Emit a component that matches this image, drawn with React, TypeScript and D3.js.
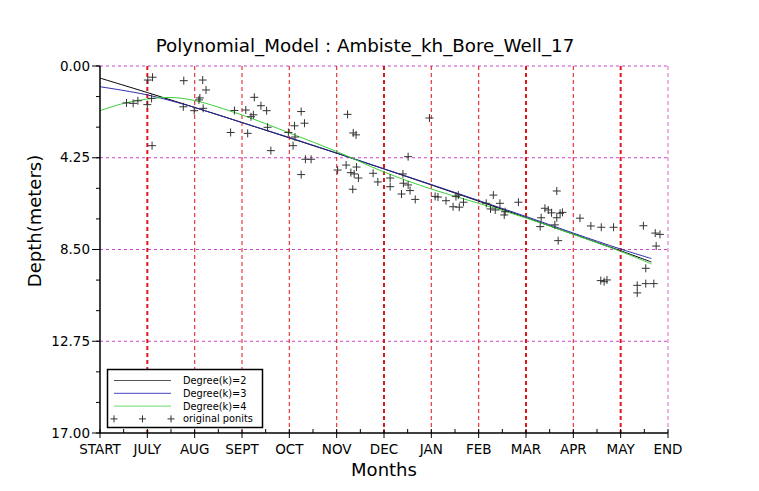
import React from 'react';
import * as d3 from 'd3';

// month ticks along the x axis (index 0..12)
const MONTH_LABELS = ['START', 'JULY', 'AUG', 'SEPT', 'OCT', 'NOV', 'DEC', 'JAN', 'FEB', 'MAR', 'APR', 'MAY', 'END'];
const DEPTH_TICKS = [0, 4.25, 8.5, 12.75, 17];

// fitted polynomial curves (month index -> depth)
const FIT_POS = [0, 1, 2, 3, 4, 5, 6, 7, 8, 9, 10, 11, 11.65];
const FIT_DEG2 = [0.56, 1.23, 1.92, 2.62, 3.33, 4.04, 4.77, 5.51, 6.26, 7.02, 7.79, 8.56, 9.08];
const FIT_DEG3 = [0.96, 1.34, 1.92, 2.62, 3.31, 4.03, 4.76, 5.49, 6.23, 6.97, 7.74, 8.48, 8.92];
const FIT4_POS = [0, 0.5, 1, 1.5, 2, 3, 4, 5, 6, 7, 8, 9, 10, 11, 11.65];
const FIT_DEG4 = [2.07, 1.73, 1.53, 1.46, 1.60, 2.27, 3.10, 3.96, 4.91, 5.70, 6.36, 7.04, 7.80, 8.59, 9.17];

// original observations
const OBS_MONTH = [
  0.56, 0.70, 0.80, 1.00, 1.01, 1.09, 1.11, 1.10, 1.77, 1.76, 1.99, 2.09, 2.11, 2.17, 2.18, 2.24,
  2.76, 2.84, 3.08, 3.12, 3.19, 3.24, 3.26, 3.40, 3.52, 3.54, 3.61, 3.98, 4.08, 4.11, 4.12, 4.25,
  4.32, 4.34, 4.46, 4.25, 5.02, 5.20, 5.23, 5.30, 5.35, 5.34, 5.37, 5.41, 5.42, 5.46, 5.77, 5.87,
  6.13, 6.13, 6.37, 6.40, 6.41, 6.51, 6.51, 6.55, 6.66, 6.96, 7.08, 7.14, 7.31, 7.46, 7.52, 7.57,
  7.59, 7.68, 8.16, 8.25, 8.31, 8.35, 8.45, 8.54, 8.56, 8.84, 9.30, 9.32, 9.40, 9.47, 9.54, 9.61,
  9.65, 9.65, 9.68, 9.72, 9.77, 10.14, 10.37, 10.59, 10.85, 11.48, 11.73, 11.83, 11.75, 11.53,
  10.58, 10.65, 10.71, 11.35, 11.35, 11.53, 11.70
];
const OBS_DEPTH = [
  1.71, 1.73, 1.61, 1.79, 0.65, 1.50, 0.52, 3.69, 0.68, 1.89, 2.07, 1.57, 1.48, 0.65, 1.96, 1.11,
  3.08, 2.06, 2.04, 3.12, 2.35, 2.26, 1.45, 1.84, 2.07, 2.84, 3.92, 3.08, 3.69, 2.77, 3.29, 2.11,
  2.65, 4.32, 4.32, 5.03, 4.82, 4.59, 2.24, 4.94, 3.10, 5.71, 5.00, 3.19, 4.68, 5.19, 4.97, 5.37,
  5.19, 5.59, 5.93, 5.00, 5.43, 4.20, 5.51, 5.77, 6.18, 2.41, 6.04, 6.07, 6.24, 6.52, 6.05, 5.98,
  6.54, 6.31, 6.36, 6.62, 5.98, 6.67, 6.36, 6.90, 6.75, 6.31, 7.44, 7.03, 6.59, 6.67, 6.80, 7.36,
  5.79, 7.03, 8.09, 6.82, 6.78, 7.05, 7.41, 7.47, 7.47, 7.40, 7.74, 7.80, 8.34, 9.37,
  9.94, 9.99, 9.91, 10.16, 10.51, 10.08, 10.08
];

const LEGEND_ITEMS = ['Degree(k)=2', 'Degree(k)=3', 'Degree(k)=4', 'original ponits'];

const W = 759;
const H = 491;
const FONT = '"DejaVu Sans", sans-serif';
const margin = { top: 66, right: 91, bottom: 58, left: 100 };

const Plus = ({ x, y, s = 4 }: { x: number; y: number; s?: number }) => (
  <g stroke="#333" strokeWidth={1}>
    <line x1={x - s} x2={x + s} y1={y} y2={y} />
    <line x1={x} x2={x} y1={y - s} y2={y + s} />
  </g>
);

export default function App() {
  const x = d3.scaleLinear().domain([0, 12]).range([margin.left, W - margin.right]);
  const y = d3.scaleLinear().domain([0, 17]).range([margin.top, H - margin.bottom]);
  const x0 = x(0), x1 = x(12), y0 = y(0), y1 = y(17);

  const line = d3.line<[number, number]>()
    .x(d => x(d[0]))
    .y(d => y(d[1]))
    .curve(d3.curveCatmullRom.alpha(0.5));

  const deg2 = FIT_POS.map((p, i) => [p, FIT_DEG2[i]] as [number, number]);
  const deg3 = FIT_POS.map((p, i) => [p, FIT_DEG3[i]] as [number, number]);
  const deg4 = FIT4_POS.map((p, i) => [p, FIT_DEG4[i]] as [number, number]);

  // heavier-looking red grid lines in the original
  const heavy = new Set([1, 6, 9, 11]);
  const minorY = d3.range(0, 17.001, 17 / 12);
  const minorX = d3.range(0.5, 12, 1);

  return (
    <svg width={W} height={H} style={{ position: 'absolute', left: 0, top: 0, background: '#fff' }} fontFamily={FONT}>
      <rect width={W} height={H} fill="#fff" />

      {/* horizontal grid */}
      {DEPTH_TICKS.slice(0, 4).map(t => (
        <line key={'hg' + t} x1={x0} x2={x1} y1={y(t)} y2={y(t)} stroke="#cc44cc" strokeWidth={1} strokeDasharray="3,3" />
      ))}
      {/* vertical grid */}
      {MONTH_LABELS.map((m, i) => i === 0 ? null : (
        <line key={'vg' + m} x1={x(i)} x2={x(i)} y1={y0} y2={y1}
          stroke={i === 12 ? '#dd66cc' : '#e01818'}
          strokeWidth={i === 12 ? 1 : heavy.has(i) ? 2 : 1.2}
          strokeOpacity={i === 12 || heavy.has(i) ? 1 : 0.85}
          strokeDasharray="4,3" />
      ))}

      {/* fitted curves */}
      <path d={line(deg2) ?? ''} fill="none" stroke="#000" strokeWidth={1} />
      <path d={line(deg3) ?? ''} fill="none" stroke="#2a2aa8" strokeWidth={1} />
      <path d={line(deg4) ?? ''} fill="none" stroke="#3ad03a" strokeWidth={1} />

      {/* observations */}
      {OBS_MONTH.map((m, i) => <Plus key={'p' + i} x={x(m)} y={y(OBS_DEPTH[i])} />)}

      {/* axes */}
      <line x1={x0} x2={x0} y1={y0} y2={y1} stroke="#000" strokeWidth={1.5} />
      <line x1={x0} x2={x1} y1={y1} y2={y1} stroke="#000" strokeWidth={1.5} />
      {minorY.map((t, i) => (
        <line key={'my' + i} x1={x0 - 4} x2={x0} y1={y(t)} y2={y(t)} stroke="#000" strokeWidth={1} />
      ))}
      {DEPTH_TICKS.map(t => (
        <g key={'yt' + t}>
          <line x1={x0 - 8} x2={x0} y1={y(t)} y2={y(t)} stroke="#000" strokeWidth={1} />
          <text x={x0 - 10} y={y(t)} dy="0.35em" textAnchor="end" fontSize={13.5} fill="#000">{t.toFixed(2)}</text>
        </g>
      ))}
      {minorX.map((t, i) => (
        <line key={'mx' + i} x1={x(t)} x2={x(t)} y1={y1} y2={y1 - 4} stroke="#000" strokeWidth={1} />
      ))}
      {MONTH_LABELS.map((m, i) => (
        <g key={'xt' + m}>
          <line x1={x(i)} x2={x(i)} y1={y1 - 4} y2={y1 + 5} stroke="#000" strokeWidth={1} />
          <text x={x(i)} y={y1 + 21} textAnchor="middle" fontSize={13.5} fill="#000">{m}</text>
        </g>
      ))}

      {/* legend */}
      <rect x={107.5} y={369.5} width={155} height={58} fill="#fff" stroke="#000" strokeWidth={1.5} />
      {LEGEND_ITEMS.map((label, i) => {
        const ly = 380.5 + i * 12.8;
        return (
          <g key={label}>
            {i < 3 ? (
              <line x1={114} x2={171} y1={ly} y2={ly} stroke={['#555', '#6a6ad0', '#88e088'][i]} strokeWidth={1.2} />
            ) : (
              [114, 142.5, 171].map(px => <Plus key={px} x={px} y={ly} s={3.5} />)
            )}
            <text x={183} y={ly} dy="0.35em" fontSize={9.8} fill="#000">{label}</text>
          </g>
        );
      })}

      {/* titles */}
      <text x={365} y={52} textAnchor="middle" fontSize={18.3} fill="#000">Polynomial_Model : Ambiste_kh_Bore_Well_17</text>
      <text x={384} y={476} textAnchor="middle" fontSize={18} fill="#000">Months</text>
      <text transform={`translate(41,221) rotate(-90)`} textAnchor="middle" fontSize={18} fill="#000">Depth(meters)</text>
    </svg>
  );
}
